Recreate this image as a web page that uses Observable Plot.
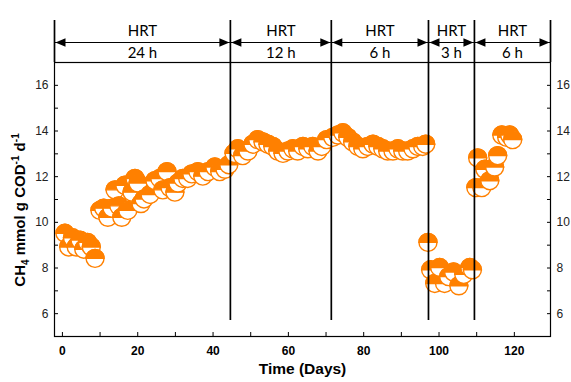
<!DOCTYPE html>
<html><head><meta charset="utf-8">
<script src="https://cdn.jsdelivr.net/npm/d3@7"></script>
<script src="https://cdn.jsdelivr.net/npm/@observablehq/plot@0.6"></script>
<style>body{margin:0;background:#fff}</style>
</head><body><div id="chart"></div>
<script>
// ---- data ----
const days = [
  0.8, 1.8, 2.8, 3.8, 4.8, 5.8, 6.8, 7.8, 8.8,
  10.1, 11.1, 12.2, 13.3, 14.1, 15.1, 15.9, 16.7, 17.5, 18.6, 19.4, 20.2, 21.0, 21.8, 23.4, 24.7, 26.0, 26.8, 27.9, 28.7, 30.0, 30.8, 32.1, 33.4, 34.5, 36.1, 37.4, 38.8, 40.6, 41.9, 43.3, 44.3,
  45.7, 46.7, 48.0, 49.4, 50.7, 52.0, 53.4, 54.7, 56.0, 57.3, 58.7, 60.0, 61.3, 62.6, 64.0, 65.3, 66.6, 68.0, 69.0, 70.3,
  71.9, 73.3, 74.6, 75.9, 77.2, 78.6, 79.9, 81.2, 82.6, 83.9, 85.2, 86.5, 87.9, 89.2, 90.5, 91.8, 93.2, 94.5, 95.8, 96.6,
  97.2, 97.9, 99.0, 100.3, 101.6, 102.7, 104.0, 105.4, 106.7, 108.3, 109.0,
  109.9, 110.4, 111.5, 112.3, 113.6, 114.9, 115.7, 116.8, 118.1, 118.9, 119.7
];
const ch4 = [
  9.5, 8.9, 9.3, 8.9, 9.2, 8.8, 9.1, 8.9, 8.4,
  10.5, 10.6, 10.2, 10.6, 11.4, 10.7, 10.2, 11.6, 10.5, 11.3, 11.9, 11.7, 10.8, 11.0, 11.2, 11.8, 11.9, 11.4, 12.2, 11.5, 11.3, 11.7, 11.9, 11.9, 12.1, 12.2, 12.0, 12.2, 12.4, 12.2, 12.3, 12.5,
  13.0, 13.2, 12.9, 13.1, 13.4, 13.6, 13.5, 13.4, 13.3, 13.1, 13.0, 13.1, 13.2, 13.1, 13.3, 13.2, 13.3, 13.1, 13.3, 13.6,
  13.7, 13.8, 13.9, 13.7, 13.5, 13.3, 13.2, 13.3, 13.4, 13.3, 13.2, 13.1, 13.1, 13.2, 13.1, 13.1, 13.2, 13.3, 13.3, 13.4,
  9.1, 7.9, 7.3, 8.0, 7.3, 7.6, 7.8, 7.2, 7.7, 8.0, 7.9,
  11.5, 12.8, 11.5, 12.3, 11.8, 12.4, 12.9, 13.8, 13.7, 13.8, 13.6
];
const phaseBounds = [-2.1, 44.6, 71.4, 97.2, 109.4, 129.6];
const phaseLabels = ["24 h", "12 h", "6 h", "3 h", "6 h"];
const xTickLabels = [0, 20, 40, 60, 80, 100, 120];
const xMinorTicks = [0, 10, 20, 30, 40, 50, 60, 70, 80, 90, 100, 110, 120];
const yTickLabels = [6, 8, 10, 12, 14, 16];
const yMinorTicks = [6, 7, 8, 9, 10, 11, 12, 13, 14, 15, 16];
const xDomain = [-2.1, 129.6];
const yDomain = [5, 17];

// ---- derived tables ----
const points = days.map((d, i) => ({day: d, ch4: ch4[i]}));
const phases = phaseLabels.map((l, i) => ({start: phaseBounds[i], end: phaseBounds[i + 1], label: l}));
const inner = phaseBounds.slice(1, -1);
const edges = [phaseBounds[0], phaseBounds[phaseBounds.length - 1]];

const ORANGE = "#ff8000";
const R = 9;
const arrowLeft = {draw(c) { c.moveTo(0, 0); c.lineTo(10, -4.2); c.lineTo(10, 4.2); c.closePath(); }};
const arrowRight = {draw(c) { c.moveTo(0, 0); c.lineTo(-10, -4.2); c.lineTo(-10, 4.2); c.closePath(); }};
const hrtFont = "Lato, 'Open Sans', sans-serif";

const plot = Plot.plot({
  width: 571, height: 382,
  marginLeft: 54, marginRight: 21, marginTop: 62, marginBottom: 46,
  style: {fontFamily: "'Liberation Sans', Arial, sans-serif", fontSize: "12px", background: "#fff", color: "#000"},
  x: {domain: xDomain, axis: null},
  y: {domain: yDomain, axis: null},
  marks: [
    // axes ticks (inward)
    Plot.axisX(xMinorTicks, {anchor: "bottom", tickSize: -4, text: null, label: null, stroke: "#000"}),
    Plot.axisX(xTickLabels, {anchor: "bottom", tickSize: 0, tickPadding: 10, label: null, fontWeight: "bold", fill: "#000"}),
    Plot.axisY(yMinorTicks, {anchor: "left", tickSize: -4, text: null, label: null, stroke: "#000"}),
    Plot.axisY(yTickLabels, {anchor: "left", tickSize: 0, tickPadding: 6, label: null, fill: "#222"}),
    Plot.axisY(yMinorTicks, {anchor: "right", tickSize: -4, text: null, label: null, stroke: "#000"}),
    Plot.axisY(yTickLabels, {anchor: "right", tickSize: 0, tickPadding: 6, label: null, fill: "#222"}),
    Plot.frame({stroke: "#000", strokeWidth: 1.2}),
    // data points: top half orange, bottom half white
    Plot.dot(points, {
      x: "day", y: "ch4",
      render(index, scales, values) {
        const g = d3.create("svg:g");
        for (const i of index) {
          const cx = values.x[i], cy = values.y[i];
          g.append("circle").attr("cx", cx).attr("cy", cy).attr("r", R)
            .attr("fill", "#fff").attr("stroke", ORANGE).attr("stroke-width", 1.4);
          g.append("path").attr("d", `M${cx - R},${cy}A${R},${R} 0 0 1 ${cx + R},${cy}Z`)
            .attr("fill", ORANGE).attr("stroke", ORANGE).attr("stroke-width", 1.4);
        }
        return g.node();
      }
    }),
    // phase boundary lines (y1 = top gets insetTop, y2 = bottom gets insetBottom)
    Plot.ruleX(inner, {x: d => d, y1: yDomain[1], y2: yDomain[0], insetTop: -42, insetBottom: 16, stroke: "#000", strokeWidth: 1.7}),
    Plot.ruleX(edges, {x: d => d, y1: yDomain[1], y2: yDomain[1], insetTop: -42, stroke: "#000", strokeWidth: 1.7}),
    // arrows
    Plot.ruleY(phases, {x1: d => d.start, x2: d => d.end, y: yDomain[1], dy: -20, stroke: "#000", strokeWidth: 1.2}),
    Plot.dot(phases, {x: "start", y: yDomain[1], dy: -20, dx: 1, symbol: arrowLeft, fill: "#000", stroke: null}),
    Plot.dot(phases, {x: "end", y: yDomain[1], dy: -20, dx: -1, symbol: arrowRight, fill: "#000", stroke: null}),
    Plot.text(phases, {x: d => (d.start + d.end) / 2, y: yDomain[1], dy: -31, text: () => "HRT", fontFamily: hrtFont, fontSize: 15, fill: "#000"}),
    Plot.text(phases, {x: d => (d.start + d.end) / 2, y: yDomain[1], dy: -9, text: "label", fontFamily: hrtFont, fontSize: 15, fill: "#000"}),
    // x title
    Plot.text(["Time (Days)"], {frameAnchor: "bottom", x: null, dy: 37, text: d => d, fontWeight: "bold", fontSize: 15.5, fill: "#000"})
  ]
});

// y-axis title with sub/superscripts
const svg = d3.select(plot);
const t = svg.append("text")
  .attr("transform", "translate(25,210) rotate(-90)")
  .attr("text-anchor", "middle")
  .attr("font-family", "'Liberation Sans', Arial, sans-serif")
  .attr("font-weight", "bold").attr("font-size", 15).attr("fill", "#000");
t.append("tspan").text("CH");
t.append("tspan").attr("font-size", 10).attr("dy", 4).text("4");
t.append("tspan").attr("dy", -4).text(" mmol g COD");
t.append("tspan").attr("font-size", 10).attr("dy", -6).text("-1");
t.append("tspan").attr("dy", 6).text(" d");
t.append("tspan").attr("font-size", 10).attr("dy", -6).text("-1");

document.getElementById("chart").appendChild(plot);
</script>
</body></html>
